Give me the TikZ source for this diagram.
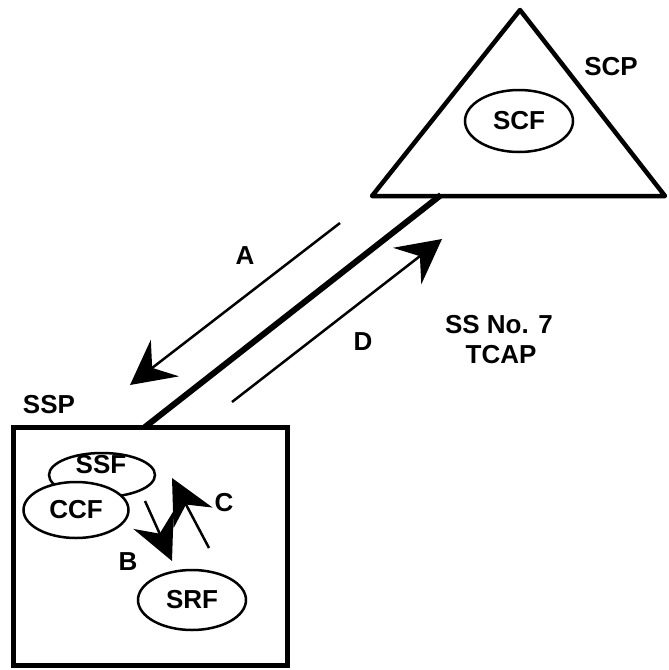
\documentclass[tikz,border=0pt]{standalone}
\usepackage{fontspec}
\setmainfont{Liberation Sans}
\usetikzlibrary{arrows.meta,shapes.geometric}
\begin{document}
\begin{tikzpicture}[x=1pt,y=-1pt,
  txt/.style={font=\fontsize{26}{30}\selectfont\bfseries},
  lbl/.style={txt, inner sep=0pt},
  func/.style={draw, ellipse, line width=2.5pt, fill=white, inner sep=0pt, txt},
  msg/.style={line width=2.5pt, -{Stealth[length=44pt,width=46pt,inset=16pt]}},
  inner/.style={line width=2.5pt, -{Stealth[length=45pt,width=44pt,inset=15pt]}},
  link/.style={line width=6pt}]
\useasboundingbox (0,0) rectangle (669,670);

% service control point
\coordinate (apex) at (520,10);
\coordinate (bl) at (372,196);
\coordinate (br) at (665,196);
\draw[line width=4.5pt, line join=round] (apex) -- (br) -- (bl) -- cycle;
\node[lbl] (scp) at (611,67) {SCP};
\node[func, minimum width=108pt, minimum height=62pt] (scf) at (519,121) {SCF};

% service switching point
\draw[line width=5pt] (13,427) rectangle (287,665);
\coordinate (boxtop) at (145,427);
\coordinate (tribot) at (441,195);
\node[lbl] (ssp) at (49,405) {SSP};
\node[func, minimum width=106pt, minimum height=44pt] (ssf) at (102,475) {};
\node[func, minimum width=105pt, minimum height=56pt] (ccf) at (76,510) {CCF};
\node[lbl] (ssftext) at (101,465) {SSF};
\node[func, minimum width=108pt, minimum height=60pt] (srf) at (192,600) {SRF};

% SS No. 7 link
\draw[link] (boxtop) -- (tribot);

% TCAP messages
\coordinate (a0) at (340,223);
\coordinate (a1) at (130,385);
\coordinate (d0) at (232,402);
\coordinate (d1) at (442,239);
\draw[msg] (a0) -- (a1);
\draw[msg] (d0) -- (d1);
\node[lbl] (la) at (245,256) {A};
\node[lbl] (ld) at (363,342) {D};
\node[lbl] (ss7) at (499,325) {SS No. 7};
\node[lbl] (tcap) at (501,355) {TCAP};

% internal flows
\coordinate (b0) at (145,501);
\coordinate (b1) at (172,561);
\coordinate (c0) at (209,548);
\coordinate (c1) at (172,478);
\draw[inner] (b0) -- (b1);
\draw[inner] (c0) -- (c1);
\node[lbl] (lb) at (128,562) {B};
\node[lbl] (lc) at (224,503) {C};
\end{tikzpicture}
\end{document}
